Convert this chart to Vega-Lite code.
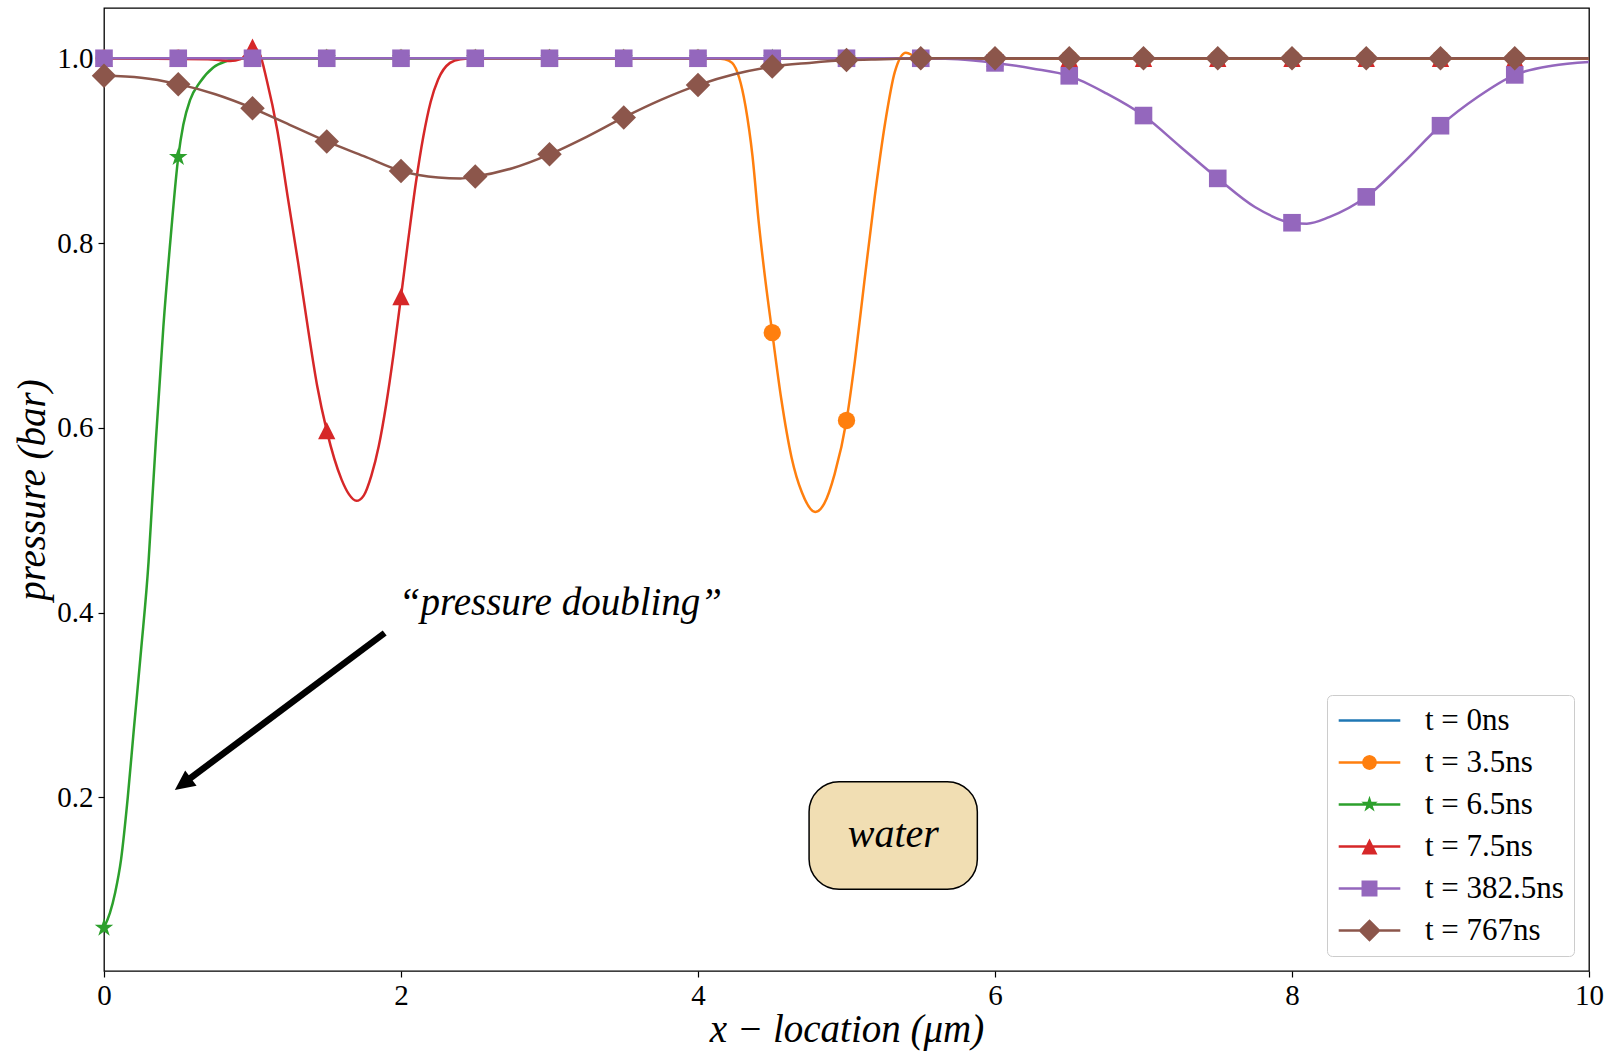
{
  "$schema": "https://vega.github.io/schema/vega-lite/v6.json",
  "autosize": {"type": "none"},
  "padding": {"left": 104, "top": 8, "right": 24, "bottom": 82},
  "width": 1485,
  "height": 963,
  "background": "white",
  "config": {
    "view": {"stroke": "#000000", "strokeWidth": 1.3},
    "axis": {
      "domain": false, "grid": false, "ticks": true, "tickColor": "#000000", "tickSize": 6, "tickWidth": 1.2,
      "labelFont": "Liberation Serif", "labelFontSize": 29, "labelColor": "#000000", "labelPadding": 4,
      "titleFont": "Liberation Serif", "titleFontSize": 39, "titleFontStyle": "italic", "titleFontWeight": "normal", "titleColor": "#000000"
    },
    "legend": {
      "orient": "bottom-right", "offset": 15, "padding": 10, "cornerRadius": 5,
      "strokeColor": "#cccccc", "fillColor": "rgba(255,255,255,0.8)",
      "labelFont": "Liberation Serif", "labelFontSize": 31, "labelColor": "#000000",
      "symbolSize": 784, "symbolStrokeWidth": 0, "symbolOffset": 17, "labelOffset": 40, "rowPadding": 10, "symbolOpacity": 1
    }
  },
  "datasets": {
    "curves": [
      {"s": "t = 0ns", "x": 0, "p": 1}, {"s": "t = 0ns", "x": 5, "p": 1}, {"s": "t = 0ns", "x": 10, "p": 1},
      {"s": "t = 3.5ns", "x": 0, "p": 1}, {"s": "t = 3.5ns", "x": 4.1, "p": 1}, {"s": "t = 3.5ns", "x": 4.18, "p": 0.999},
      {"s": "t = 3.5ns", "x": 4.23, "p": 0.995}, {"s": "t = 3.5ns", "x": 4.32, "p": 0.948}, {"s": "t = 3.5ns", "x": 4.367, "p": 0.894},
      {"s": "t = 3.5ns", "x": 4.41, "p": 0.821}, {"s": "t = 3.5ns", "x": 4.455, "p": 0.758}, {"s": "t = 3.5ns", "x": 4.5, "p": 0.703},
      {"s": "t = 3.5ns", "x": 4.56, "p": 0.632}, {"s": "t = 3.5ns", "x": 4.63, "p": 0.568}, {"s": "t = 3.5ns", "x": 4.7, "p": 0.53},
      {"s": "t = 3.5ns", "x": 4.79, "p": 0.509}, {"s": "t = 3.5ns", "x": 4.85, "p": 0.518}, {"s": "t = 3.5ns", "x": 4.92, "p": 0.55},
      {"s": "t = 3.5ns", "x": 5.0, "p": 0.608}, {"s": "t = 3.5ns", "x": 5.056, "p": 0.672}, {"s": "t = 3.5ns", "x": 5.12, "p": 0.758},
      {"s": "t = 3.5ns", "x": 5.19, "p": 0.85}, {"s": "t = 3.5ns", "x": 5.26, "p": 0.93}, {"s": "t = 3.5ns", "x": 5.325, "p": 0.985},
      {"s": "t = 3.5ns", "x": 5.4, "p": 1.006}, {"s": "t = 3.5ns", "x": 5.46, "p": 1.002}, {"s": "t = 3.5ns", "x": 5.5, "p": 1},
      {"s": "t = 3.5ns", "x": 10, "p": 1},
      {"s": "t = 6.5ns", "x": 0, "p": 0.059}, {"s": "t = 6.5ns", "x": 0.04, "p": 0.075}, {"s": "t = 6.5ns", "x": 0.075, "p": 0.097},
      {"s": "t = 6.5ns", "x": 0.115, "p": 0.133}, {"s": "t = 6.5ns", "x": 0.16, "p": 0.2}, {"s": "t = 6.5ns", "x": 0.2, "p": 0.272},
      {"s": "t = 6.5ns", "x": 0.25, "p": 0.36}, {"s": "t = 6.5ns", "x": 0.3, "p": 0.455}, {"s": "t = 6.5ns", "x": 0.325, "p": 0.522},
      {"s": "t = 6.5ns", "x": 0.35, "p": 0.588}, {"s": "t = 6.5ns", "x": 0.4, "p": 0.71}, {"s": "t = 6.5ns", "x": 0.45, "p": 0.808},
      {"s": "t = 6.5ns", "x": 0.5, "p": 0.893}, {"s": "t = 6.5ns", "x": 0.534, "p": 0.928}, {"s": "t = 6.5ns", "x": 0.58, "p": 0.955},
      {"s": "t = 6.5ns", "x": 0.646, "p": 0.974}, {"s": "t = 6.5ns", "x": 0.736, "p": 0.99}, {"s": "t = 6.5ns", "x": 0.826, "p": 0.997},
      {"s": "t = 6.5ns", "x": 0.9, "p": 1}, {"s": "t = 6.5ns", "x": 10, "p": 1},
      {"s": "t = 7.5ns", "x": 0, "p": 1}, {"s": "t = 7.5ns", "x": 0.7, "p": 0.999}, {"s": "t = 7.5ns", "x": 0.85, "p": 0.997},
      {"s": "t = 7.5ns", "x": 0.92, "p": 0.999}, {"s": "t = 7.5ns", "x": 0.96, "p": 1.005}, {"s": "t = 7.5ns", "x": 1.0, "p": 1.012},
      {"s": "t = 7.5ns", "x": 1.05, "p": 1.004}, {"s": "t = 7.5ns", "x": 1.095, "p": 0.977}, {"s": "t = 7.5ns", "x": 1.167, "p": 0.922},
      {"s": "t = 7.5ns", "x": 1.237, "p": 0.85}, {"s": "t = 7.5ns", "x": 1.308, "p": 0.778}, {"s": "t = 7.5ns", "x": 1.375, "p": 0.706},
      {"s": "t = 7.5ns", "x": 1.436, "p": 0.645}, {"s": "t = 7.5ns", "x": 1.5, "p": 0.597}, {"s": "t = 7.5ns", "x": 1.6, "p": 0.544},
      {"s": "t = 7.5ns", "x": 1.65, "p": 0.528}, {"s": "t = 7.5ns", "x": 1.7, "p": 0.521}, {"s": "t = 7.5ns", "x": 1.75, "p": 0.527},
      {"s": "t = 7.5ns", "x": 1.8, "p": 0.548}, {"s": "t = 7.5ns", "x": 1.85, "p": 0.58}, {"s": "t = 7.5ns", "x": 1.9, "p": 0.625},
      {"s": "t = 7.5ns", "x": 1.95, "p": 0.68}, {"s": "t = 7.5ns", "x": 2.0, "p": 0.742}, {"s": "t = 7.5ns", "x": 2.05, "p": 0.805},
      {"s": "t = 7.5ns", "x": 2.1, "p": 0.865}, {"s": "t = 7.5ns", "x": 2.15, "p": 0.915}, {"s": "t = 7.5ns", "x": 2.2, "p": 0.953},
      {"s": "t = 7.5ns", "x": 2.25, "p": 0.977}, {"s": "t = 7.5ns", "x": 2.33, "p": 0.995}, {"s": "t = 7.5ns", "x": 2.4, "p": 0.999},
      {"s": "t = 7.5ns", "x": 2.5, "p": 1}, {"s": "t = 7.5ns", "x": 10, "p": 1},
      {"s": "t = 382.5ns", "x": 0, "p": 1}, {"s": "t = 382.5ns", "x": 5.5, "p": 1}, {"s": "t = 382.5ns", "x": 5.75, "p": 0.999},
      {"s": "t = 382.5ns", "x": 6, "p": 0.995}, {"s": "t = 382.5ns", "x": 6.25, "p": 0.989}, {"s": "t = 382.5ns", "x": 6.5, "p": 0.981},
      {"s": "t = 382.5ns", "x": 6.75, "p": 0.962}, {"s": "t = 382.5ns", "x": 7, "p": 0.938}, {"s": "t = 382.5ns", "x": 7.25, "p": 0.904},
      {"s": "t = 382.5ns", "x": 7.5, "p": 0.87}, {"s": "t = 382.5ns", "x": 7.75, "p": 0.839}, {"s": "t = 382.5ns", "x": 8, "p": 0.822},
      {"s": "t = 382.5ns", "x": 8.1, "p": 0.821}, {"s": "t = 382.5ns", "x": 8.25, "p": 0.828}, {"s": "t = 382.5ns", "x": 8.5, "p": 0.85},
      {"s": "t = 382.5ns", "x": 8.75, "p": 0.887}, {"s": "t = 382.5ns", "x": 9, "p": 0.927}, {"s": "t = 382.5ns", "x": 9.25, "p": 0.958},
      {"s": "t = 382.5ns", "x": 9.5, "p": 0.982}, {"s": "t = 382.5ns", "x": 9.75, "p": 0.992}, {"s": "t = 382.5ns", "x": 10, "p": 0.996},
      {"s": "t = 767ns", "x": 0, "p": 0.981}, {"s": "t = 767ns", "x": 0.25, "p": 0.979}, {"s": "t = 767ns", "x": 0.5, "p": 0.972},
      {"s": "t = 767ns", "x": 0.75, "p": 0.961}, {"s": "t = 767ns", "x": 1, "p": 0.946}, {"s": "t = 767ns", "x": 1.25, "p": 0.928},
      {"s": "t = 767ns", "x": 1.5, "p": 0.91}, {"s": "t = 767ns", "x": 1.75, "p": 0.894}, {"s": "t = 767ns", "x": 2, "p": 0.878},
      {"s": "t = 767ns", "x": 2.25, "p": 0.871}, {"s": "t = 767ns", "x": 2.4, "p": 0.87}, {"s": "t = 767ns", "x": 2.5, "p": 0.872},
      {"s": "t = 767ns", "x": 2.75, "p": 0.881}, {"s": "t = 767ns", "x": 3, "p": 0.896}, {"s": "t = 767ns", "x": 3.25, "p": 0.915},
      {"s": "t = 767ns", "x": 3.5, "p": 0.936}, {"s": "t = 767ns", "x": 3.75, "p": 0.955}, {"s": "t = 767ns", "x": 4, "p": 0.971},
      {"s": "t = 767ns", "x": 4.25, "p": 0.983}, {"s": "t = 767ns", "x": 4.5, "p": 0.991}, {"s": "t = 767ns", "x": 4.75, "p": 0.995},
      {"s": "t = 767ns", "x": 5, "p": 0.998}, {"s": "t = 767ns", "x": 5.25, "p": 0.999}, {"s": "t = 767ns", "x": 5.5, "p": 1},
      {"s": "t = 767ns", "x": 10, "p": 1}
    ],
    "markers": [
      {"s": "t = 3.5ns", "x": 0, "p": 1}, {"s": "t = 3.5ns", "x": 0.5, "p": 1}, {"s": "t = 3.5ns", "x": 1, "p": 1}, {"s": "t = 3.5ns", "x": 1.5, "p": 1},
      {"s": "t = 3.5ns", "x": 2, "p": 1}, {"s": "t = 3.5ns", "x": 2.5, "p": 1}, {"s": "t = 3.5ns", "x": 3, "p": 1}, {"s": "t = 3.5ns", "x": 3.5, "p": 1},
      {"s": "t = 3.5ns", "x": 4, "p": 1}, {"s": "t = 3.5ns", "x": 4.5, "p": 0.703}, {"s": "t = 3.5ns", "x": 5, "p": 0.608}, {"s": "t = 3.5ns", "x": 5.5, "p": 1},
      {"s": "t = 3.5ns", "x": 6, "p": 1}, {"s": "t = 3.5ns", "x": 6.5, "p": 1}, {"s": "t = 3.5ns", "x": 7, "p": 1}, {"s": "t = 3.5ns", "x": 7.5, "p": 1},
      {"s": "t = 3.5ns", "x": 8, "p": 1}, {"s": "t = 3.5ns", "x": 8.5, "p": 1}, {"s": "t = 3.5ns", "x": 9, "p": 1}, {"s": "t = 3.5ns", "x": 9.5, "p": 1},
      {"s": "t = 6.5ns", "x": 0, "p": 0.059}, {"s": "t = 6.5ns", "x": 0.5, "p": 0.893}, {"s": "t = 6.5ns", "x": 1, "p": 1}, {"s": "t = 6.5ns", "x": 1.5, "p": 1},
      {"s": "t = 6.5ns", "x": 2, "p": 1}, {"s": "t = 6.5ns", "x": 2.5, "p": 1}, {"s": "t = 6.5ns", "x": 3, "p": 1}, {"s": "t = 6.5ns", "x": 3.5, "p": 1},
      {"s": "t = 6.5ns", "x": 4, "p": 1}, {"s": "t = 6.5ns", "x": 4.5, "p": 1}, {"s": "t = 6.5ns", "x": 5, "p": 1}, {"s": "t = 6.5ns", "x": 5.5, "p": 1},
      {"s": "t = 6.5ns", "x": 6, "p": 1}, {"s": "t = 6.5ns", "x": 6.5, "p": 1}, {"s": "t = 6.5ns", "x": 7, "p": 1}, {"s": "t = 6.5ns", "x": 7.5, "p": 1},
      {"s": "t = 6.5ns", "x": 8, "p": 1}, {"s": "t = 6.5ns", "x": 8.5, "p": 1}, {"s": "t = 6.5ns", "x": 9, "p": 1}, {"s": "t = 6.5ns", "x": 9.5, "p": 1},
      {"s": "t = 7.5ns", "x": 0, "p": 1}, {"s": "t = 7.5ns", "x": 0.5, "p": 1}, {"s": "t = 7.5ns", "x": 1, "p": 1.012}, {"s": "t = 7.5ns", "x": 1.5, "p": 0.597},
      {"s": "t = 7.5ns", "x": 2, "p": 0.742}, {"s": "t = 7.5ns", "x": 2.5, "p": 1}, {"s": "t = 7.5ns", "x": 3, "p": 1}, {"s": "t = 7.5ns", "x": 3.5, "p": 1},
      {"s": "t = 7.5ns", "x": 4, "p": 1}, {"s": "t = 7.5ns", "x": 4.5, "p": 1}, {"s": "t = 7.5ns", "x": 5, "p": 1}, {"s": "t = 7.5ns", "x": 5.5, "p": 1},
      {"s": "t = 7.5ns", "x": 6, "p": 1}, {"s": "t = 7.5ns", "x": 6.5, "p": 1}, {"s": "t = 7.5ns", "x": 7, "p": 1}, {"s": "t = 7.5ns", "x": 7.5, "p": 1},
      {"s": "t = 7.5ns", "x": 8, "p": 1}, {"s": "t = 7.5ns", "x": 8.5, "p": 1}, {"s": "t = 7.5ns", "x": 9, "p": 1}, {"s": "t = 7.5ns", "x": 9.5, "p": 1},
      {"s": "t = 382.5ns", "x": 0, "p": 1}, {"s": "t = 382.5ns", "x": 0.5, "p": 1}, {"s": "t = 382.5ns", "x": 1, "p": 1}, {"s": "t = 382.5ns", "x": 1.5, "p": 1},
      {"s": "t = 382.5ns", "x": 2, "p": 1}, {"s": "t = 382.5ns", "x": 2.5, "p": 1}, {"s": "t = 382.5ns", "x": 3, "p": 1}, {"s": "t = 382.5ns", "x": 3.5, "p": 1},
      {"s": "t = 382.5ns", "x": 4, "p": 1}, {"s": "t = 382.5ns", "x": 4.5, "p": 1}, {"s": "t = 382.5ns", "x": 5, "p": 1}, {"s": "t = 382.5ns", "x": 5.5, "p": 1},
      {"s": "t = 382.5ns", "x": 6, "p": 0.995}, {"s": "t = 382.5ns", "x": 6.5, "p": 0.981}, {"s": "t = 382.5ns", "x": 7, "p": 0.938}, {"s": "t = 382.5ns", "x": 7.5, "p": 0.87},
      {"s": "t = 382.5ns", "x": 8, "p": 0.822}, {"s": "t = 382.5ns", "x": 8.5, "p": 0.85}, {"s": "t = 382.5ns", "x": 9, "p": 0.927}, {"s": "t = 382.5ns", "x": 9.5, "p": 0.982},
      {"s": "t = 767ns", "x": 0, "p": 0.981}, {"s": "t = 767ns", "x": 0.5, "p": 0.972}, {"s": "t = 767ns", "x": 1, "p": 0.946}, {"s": "t = 767ns", "x": 1.5, "p": 0.91},
      {"s": "t = 767ns", "x": 2, "p": 0.878}, {"s": "t = 767ns", "x": 2.5, "p": 0.872}, {"s": "t = 767ns", "x": 3, "p": 0.896}, {"s": "t = 767ns", "x": 3.5, "p": 0.936},
      {"s": "t = 767ns", "x": 4, "p": 0.971}, {"s": "t = 767ns", "x": 4.5, "p": 0.991}, {"s": "t = 767ns", "x": 5, "p": 0.998}, {"s": "t = 767ns", "x": 5.5, "p": 1},
      {"s": "t = 767ns", "x": 6, "p": 1}, {"s": "t = 767ns", "x": 6.5, "p": 1}, {"s": "t = 767ns", "x": 7, "p": 1}, {"s": "t = 767ns", "x": 7.5, "p": 1},
      {"s": "t = 767ns", "x": 8, "p": 1}, {"s": "t = 767ns", "x": 8.5, "p": 1}, {"s": "t = 767ns", "x": 9, "p": 1}, {"s": "t = 767ns", "x": 9.5, "p": 1}
    ]
  },
  "layer": [
    {
      "data": {"name": "curves"},
      "transform": [{"filter": "datum.s === 't = 0ns'"}],
      "mark": {"type": "line", "interpolate": "monotone", "strokeWidth": 2.5, "color": "#1f77b4"},
      "encoding": {
        "x": {"field": "x", "type": "quantitative", "scale": {"domain": [0, 10], "nice": false, "zero": false},
              "axis": {"values": [0, 2, 4, 6, 8, 10], "format": "d", "title": "x − location (μm)", "labelFlush": false, "titlePadding": 0,
                       "labelFont": "Liberation Serif", "labelFontSize": 29}},
        "y": {"field": "p", "type": "quantitative", "scale": {"domain": [0.0122, 1.0544], "nice": false, "zero": false},
              "axis": {"values": [0.2, 0.4, 0.6, 0.8, 1.0], "format": ".1f", "title": "pressure (bar)", "titlePadding": 4, "labelPadding": 5,
                       "labelFont": "Liberation Serif", "labelFontSize": 29}}
      }
    },
    {
      "data": {"name": "curves"},
      "transform": [{"filter": "datum.s === 't = 3.5ns'"}],
      "mark": {"type": "line", "interpolate": "monotone", "strokeWidth": 2.5, "color": "#ff7f0e"},
      "encoding": {"x": {"field": "x", "type": "quantitative"}, "y": {"field": "p", "type": "quantitative"}}
    },
    {
      "data": {"name": "markers"},
      "transform": [{"filter": "datum.s === 't = 3.5ns'"}],
      "mark": {"type": "point", "shape": "circle", "size": 300, "filled": true, "opacity": 1, "color": "#ff7f0e"},
      "encoding": {"x": {"field": "x", "type": "quantitative"}, "y": {"field": "p", "type": "quantitative"}}
    },
    {
      "data": {"name": "curves"},
      "transform": [{"filter": "datum.s === 't = 6.5ns'"}],
      "mark": {"type": "line", "interpolate": "monotone", "strokeWidth": 2.5, "color": "#2ca02c"},
      "encoding": {"x": {"field": "x", "type": "quantitative"}, "y": {"field": "p", "type": "quantitative"}}
    },
    {
      "data": {"name": "markers"},
      "transform": [{"filter": "datum.s === 't = 6.5ns'"}],
      "mark": {"type": "point", "shape": "M0,-1L0.2245,-0.309L0.951,-0.309L0.363,0.118L0.588,0.809L0,0.382L-0.588,0.809L-0.363,0.118L-0.951,-0.309L-0.2245,-0.309Z", "size": 380, "filled": true, "opacity": 1, "color": "#2ca02c"},
      "encoding": {"x": {"field": "x", "type": "quantitative"}, "y": {"field": "p", "type": "quantitative"}}
    },
    {
      "data": {"name": "curves"},
      "transform": [{"filter": "datum.s === 't = 7.5ns'"}],
      "mark": {"type": "line", "interpolate": "monotone", "strokeWidth": 2.5, "color": "#d62728"},
      "encoding": {"x": {"field": "x", "type": "quantitative"}, "y": {"field": "p", "type": "quantitative"}}
    },
    {
      "data": {"name": "markers"},
      "transform": [{"filter": "datum.s === 't = 7.5ns'"}],
      "mark": {"type": "point", "shape": "M0,-1L1,1L-1,1Z", "size": 300, "filled": true, "opacity": 1, "color": "#d62728"},
      "encoding": {"x": {"field": "x", "type": "quantitative"}, "y": {"field": "p", "type": "quantitative"}}
    },
    {
      "data": {"name": "curves"},
      "transform": [{"filter": "datum.s === 't = 382.5ns'"}],
      "mark": {"type": "line", "interpolate": "monotone", "strokeWidth": 2.5, "color": "#9467bd"},
      "encoding": {"x": {"field": "x", "type": "quantitative"}, "y": {"field": "p", "type": "quantitative"}}
    },
    {
      "data": {"name": "markers"},
      "transform": [{"filter": "datum.s === 't = 382.5ns'"}],
      "mark": {"type": "point", "shape": "square", "size": 310, "filled": true, "opacity": 1, "color": "#9467bd"},
      "encoding": {"x": {"field": "x", "type": "quantitative"}, "y": {"field": "p", "type": "quantitative"}}
    },
    {
      "data": {"name": "curves"},
      "transform": [{"filter": "datum.s === 't = 767ns'"}],
      "mark": {"type": "line", "interpolate": "monotone", "strokeWidth": 2.5, "color": "#8c564b"},
      "encoding": {"x": {"field": "x", "type": "quantitative"}, "y": {"field": "p", "type": "quantitative"}}
    },
    {
      "data": {"name": "markers"},
      "transform": [{"filter": "datum.s === 't = 767ns'"}],
      "mark": {"type": "point", "shape": "diamond", "size": 600, "filled": true, "opacity": 1, "color": "#8c564b"},
      "encoding": {"x": {"field": "x", "type": "quantitative"}, "y": {"field": "p", "type": "quantitative"}}
    },
    {
      "data": {"name": "markers"},
      "transform": [{"filter": "datum.x > 100"}],
      "mark": {"type": "point", "filled": true, "opacity": 1, "size": 784},
      "encoding": {
        "x": {"field": "x", "type": "quantitative"},
        "y": {"field": "p", "type": "quantitative"},
        "color": {"field": "s", "type": "nominal",
                  "scale": {"domain": ["t = 0ns", "t = 3.5ns", "t = 6.5ns", "t = 7.5ns", "t = 382.5ns", "t = 767ns"],
                            "range": ["#1f77b4", "#ff7f0e", "#2ca02c", "#d62728", "#9467bd", "#8c564b"]},
                  "legend": {"title": null}},
        "shape": {"field": "s", "type": "nominal",
                  "scale": {"domain": ["t = 0ns", "t = 3.5ns", "t = 6.5ns", "t = 7.5ns", "t = 382.5ns", "t = 767ns"],
                            "range": [
                              "M-2.2,-0.09L2.2,-0.09L2.2,0.09L-2.2,0.09Z",
                              "M-2.2,-0.09L2.2,-0.09L2.2,0.09L-2.2,0.09Z M0.53,0L0.49,0.203L0.375,0.375L0.203,0.49L0,0.53L-0.203,0.49L-0.375,0.375L-0.49,0.203L-0.53,0L-0.49,-0.203L-0.375,-0.375L-0.203,-0.49L0,-0.53L0.203,-0.49L0.375,-0.375L0.49,-0.203Z",
                              "M-2.2,-0.09L2.2,-0.09L2.2,0.09L-2.2,0.09Z M0,-0.62L0.139,-0.192L0.59,-0.192L0.225,0.073L0.365,0.502L0,0.237L-0.365,0.502L-0.225,0.073L-0.59,-0.192L-0.139,-0.192Z",
                              "M-2.2,-0.09L2.2,-0.09L2.2,0.09L-2.2,0.09Z M0,-0.57L0.57,0.57L-0.57,0.57Z",
                              "M-2.2,-0.09L2.2,-0.09L2.2,0.09L-2.2,0.09Z M-0.57,-0.57L0.57,-0.57L0.57,0.57L-0.57,0.57Z",
                              "M-2.2,-0.09L2.2,-0.09L2.2,0.09L-2.2,0.09Z M0,-0.8L0.8,0L0,0.8L-0.8,0Z"
                            ]},
                  "legend": {"title": null}}
      }
    },
    {
      "data": {"values": [{"x": 4.748, "x2": 5.881, "y": 0.2171, "y2": 0.1006}]},
      "mark": {"type": "rect", "cornerRadius": 30, "fill": "#f1deb3", "stroke": "#000000", "strokeWidth": 1.5},
      "encoding": {
        "x": {"field": "x", "type": "quantitative"}, "x2": {"field": "x2"},
        "y": {"field": "y", "type": "quantitative"}, "y2": {"field": "y2"}
      }
    },
    {
      "data": {"values": [{"x": 5.315, "y": 0.159, "label": "water"}]},
      "mark": {"type": "text", "font": "Liberation Serif", "fontSize": 40, "fontStyle": "italic", "align": "center", "baseline": "middle", "color": "#000000"},
      "encoding": {"x": {"field": "x", "type": "quantitative"}, "y": {"field": "y", "type": "quantitative"}, "text": {"field": "label"}}
    },
    {
      "data": {"values": [{"x": 1.985, "y": 0.397, "label": "“pressure doubling”"}]},
      "mark": {"type": "text", "font": "Liberation Serif", "fontSize": 39, "fontStyle": "italic", "align": "left", "baseline": "alphabetic", "color": "#000000"},
      "encoding": {"x": {"field": "x", "type": "quantitative"}, "y": {"field": "y", "type": "quantitative"}, "text": {"field": "label"}}
    },
    {
      "data": {"values": [{"x": 1.89, "y": 0.378, "x2": 0.557, "y2": 0.218}]},
      "mark": {"type": "rule", "strokeWidth": 6.5, "color": "#000000", "strokeCap": "butt"},
      "encoding": {
        "x": {"field": "x", "type": "quantitative"}, "x2": {"field": "x2"},
        "y": {"field": "y", "type": "quantitative"}, "y2": {"field": "y2"}
      }
    },
    {
      "data": {"values": [{"x": 0.477, "y": 0.208}]},
      "mark": {"type": "point", "shape": "M0,0L0.95,2L-0.95,2Z", "size": 400, "angle": 233.3, "filled": true, "opacity": 1, "color": "#000000"},
      "encoding": {"x": {"field": "x", "type": "quantitative"}, "y": {"field": "y", "type": "quantitative"}}
    }
  ]
}
